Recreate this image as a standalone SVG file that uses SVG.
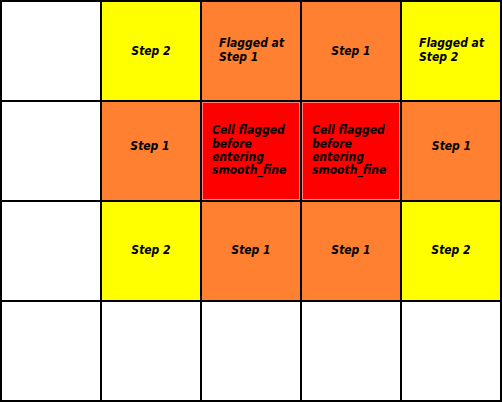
<svg xmlns="http://www.w3.org/2000/svg" width="502" height="402" viewBox="0 0 502 402">
<style>
.w{fill:#ffffff}
.y{fill:#ffff00}
.o{fill:#ff8030}
.r{fill:#ff0000;stroke:#ff8080;stroke-width:1}
text{font-family:"DejaVu Sans Condensed","DejaVu Sans",sans-serif;font-stretch:condensed;font-size:12px;font-weight:bold;font-style:oblique;fill:#000}
.c{text-anchor:middle}
.grid{stroke:#000;stroke-width:2;fill:none}
</style>
<rect x="0" y="0" width="502" height="402" fill="#ffffff"/>
<g id="r1c1"><rect class="w" x="1" y="1" width="100" height="100"/></g>
<g id="r1c2"><rect class="y" x="101" y="1" width="100" height="100"/><text class="c" x="151" y="54.5">Step 2</text></g>
<g id="r1c3"><rect class="o" x="201" y="1" width="100" height="100"/><text x="219" y="47.3">Flagged at</text><text x="219" y="60.7">Step 1</text></g>
<g id="r1c4"><rect class="o" x="301" y="1" width="100" height="100"/><text class="c" x="351" y="54.5">Step 1</text></g>
<g id="r1c5"><rect class="y" x="401" y="1" width="100" height="100"/><text x="419" y="47.3">Flagged at</text><text x="419" y="60.7">Step 2</text></g>
<g id="r2c1"><rect class="w" x="1" y="101" width="100" height="100"/></g>
<g id="r2c2"><rect class="o" x="101" y="101" width="100" height="100"/><text class="c" x="150" y="150">Step 1</text></g>
<g id="r2c3"><rect class="r" x="202.5" y="102.5" width="97" height="97"/><text x="212" y="134.3">Cell flagged</text><text x="212" y="147.6">before</text><text x="212" y="160.9">entering</text><text x="212" y="174.2">smooth_fine</text></g>
<g id="r2c4"><rect class="r" x="302.5" y="102.5" width="97" height="97"/><text x="312" y="134.3">Cell flagged</text><text x="312" y="147.6">before</text><text x="312" y="160.9">entering</text><text x="312" y="174.2">smooth_fine</text></g>
<g id="r2c5"><rect class="o" x="401" y="101" width="100" height="100"/><text class="c" x="451.5" y="150">Step 1</text></g>
<g id="r3c1"><rect class="w" x="1" y="201" width="100" height="100"/></g>
<g id="r3c2"><rect class="y" x="101" y="201" width="100" height="100"/><text class="c" x="151" y="254">Step 2</text></g>
<g id="r3c3"><rect class="o" x="201" y="201" width="100" height="100"/><text class="c" x="251" y="254">Step 1</text></g>
<g id="r3c4"><rect class="o" x="301" y="201" width="100" height="100"/><text class="c" x="351" y="254">Step 1</text></g>
<g id="r3c5"><rect class="y" x="401" y="201" width="100" height="100"/><text class="c" x="451" y="254">Step 2</text></g>
<g id="grid" class="grid">
<path d="M1,0V402M101,0V402M201,0V402M301,0V402M401,0V402M501,0V402"/>
<path d="M0,1H502M0,101H502M0,201H502M0,301H502M0,401H502"/>
</g>
</svg>
